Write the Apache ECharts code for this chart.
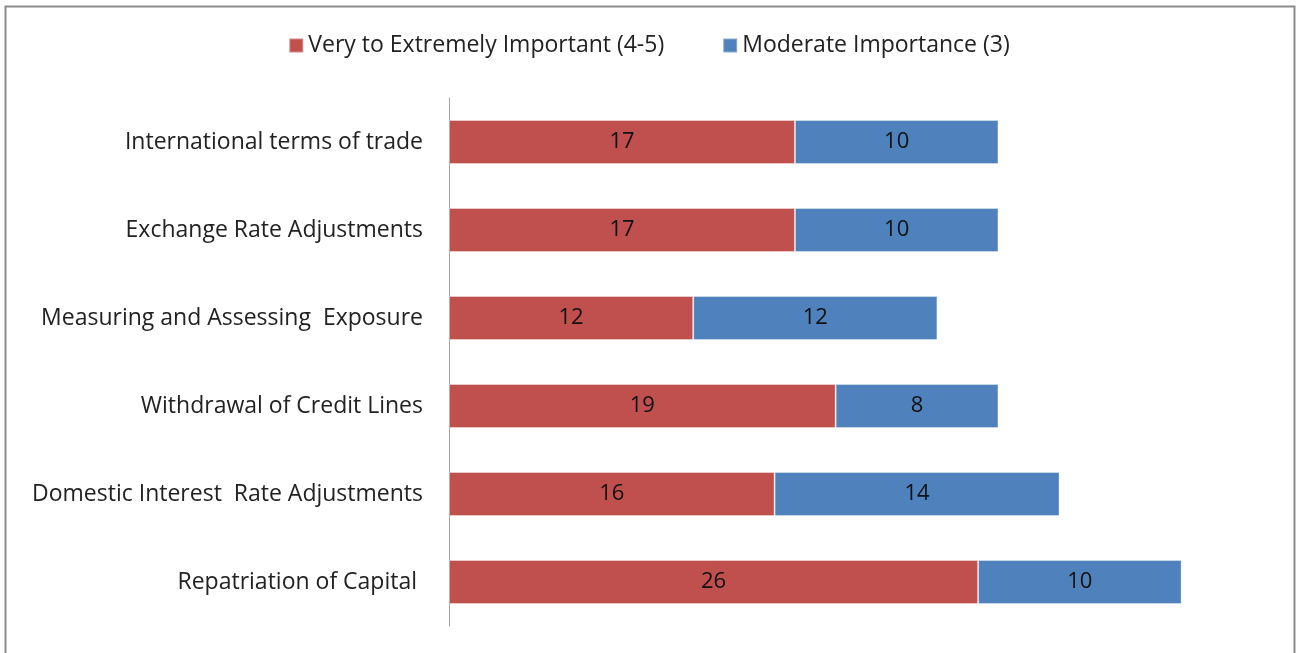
<!DOCTYPE html>
<html>
<head>
<meta charset="utf-8">
<script src="https://cdn.jsdelivr.net/npm/echarts@6/dist/echarts.min.js"></script>
<style>
  html, body { margin: 0; padding: 0; background: #fff; }
  #chart { width: 1298px; height: 653px; }
</style>
</head>
<body>
<div id="chart"></div>
<script>
const categories = [
  'International terms of trade',
  'Exchange Rate Adjustments',
  'Measuring and Assessing  Exposure',
  'Withdrawal of Credit Lines',
  'Domestic Interest  Rate Adjustments',
  'Repatriation of Capital '
];
const veryImportant = [17, 17, 12, 19, 16, 26];
const moderate = [10, 10, 12, 8, 14, 10];
const seriesNames = ['Very to Extremely Important (4-5)', 'Moderate Importance (3)'];

const fontFamily = '"Open Sans", sans-serif';
const chart = echarts.init(document.getElementById('chart'), null, { renderer: 'canvas' });

const labelStyle = {
  show: true,
  position: 'inside',
  color: '#111',
  fontSize: 22,
  fontFamily
};

chart.setOption({
  animation: false,
  color: ['#C0504D', '#4F81BD'],
  graphic: [
    {
      type: 'rect',
      left: 3,
      top: 4,
      shape: { width: 1289, height: 660 },
      style: { fill: 'none', stroke: '#8c8c8c', lineWidth: 2 },
      silent: true
    }
  ],
  legend: {
    top: 29,
    left: 'center',
    itemWidth: 14,
    itemHeight: 14,
    itemGap: 58,
    icon: 'rect',
    textStyle: { color: '#222', fontSize: 23, fontFamily },
    data: seriesNames
  },
  grid: { left: 449, right: 35, top: 98, bottom: 27 },
  xAxis: {
    type: 'value',
    min: 0,
    max: 40,
    show: false
  },
  yAxis: {
    type: 'category',
    inverse: true,
    data: categories,
    axisLine: { show: true, lineStyle: { color: '#a6a6a6', width: 1 } },
    axisTick: { show: false },
    axisLabel: { color: '#222', fontSize: 23, fontFamily, margin: 26 }
  },
  series: [
    {
      name: seriesNames[0],
      type: 'bar',
      stack: 'total',
      barWidth: '50%',
      itemStyle: { borderColor: 'rgba(255,255,255,0.35)', borderWidth: 1 },
      label: labelStyle,
      data: veryImportant
    },
    {
      name: seriesNames[1],
      type: 'bar',
      stack: 'total',
      barWidth: '50%',
      itemStyle: { borderColor: 'rgba(255,255,255,0.35)', borderWidth: 1 },
      label: labelStyle,
      data: moderate
    }
  ]
});
</script>
</body>
</html>
